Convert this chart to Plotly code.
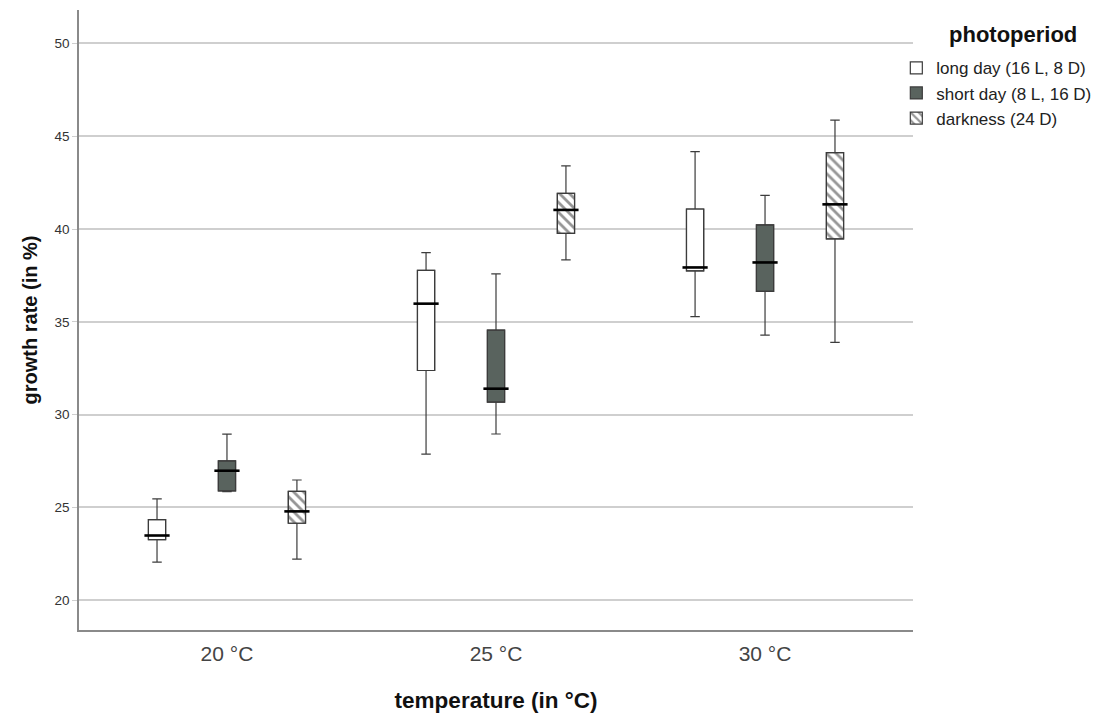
import plotly.graph_objects as go

temperatures = ["20 °C", "25 °C", "30 °C"]
series_names = ["long day (16 L, 8 D)", "short day (8 L, 16 D)", "darkness (24 D)"]
legend_title = "photoperiod"

# per series: values for 20, 25, 30 °C
long_min = [22.06, 27.87, 35.28]
long_q1 = [23.27, 32.38, 37.75]
long_med = [23.49, 35.98, 37.93]
long_q3 = [24.35, 37.77, 41.08]
long_max = [25.46, 38.73, 44.17]

short_min = [25.85, 28.96, 34.28]
short_q1 = [25.90, 30.68, 36.64]
short_med = [26.98, 31.40, 38.20]
short_q3 = [27.51, 34.55, 40.22]
short_max = [28.95, 37.59, 41.81]

dark_min = [22.22, 38.34, 33.89]
dark_q1 = [24.15, 39.77, 39.47]
dark_med = [24.79, 41.03, 41.33]
dark_q3 = [25.87, 41.92, 44.12]
dark_max = [26.48, 43.40, 45.87]

y_ticks = [20, 25, 30, 35, 40, 45, 50]

series = [
    dict(name=series_names[0], mn=long_min, q1=long_q1, med=long_med, q3=long_q3, mx=long_max,
         fill="white", pattern=None),
    dict(name=series_names[1], mn=short_min, q1=short_q1, med=short_med, q3=short_q3, mx=short_max,
         fill="#59635e", pattern=None),
    dict(name=series_names[2], mn=dark_min, q1=dark_q1, med=dark_med, q3=dark_q3, mx=dark_max,
         fill="white", pattern=dict(shape="\\", fgcolor="#2e2e2e", bgcolor="white", size=7, solidity=0.4)),
]

offsets = [-0.26, 0.0, 0.26]
box_w = 0.064
LINE = "#3c3c3c"
FONT = "Liberation Sans, Arial, sans-serif"

fig = go.Figure()

for i, s in enumerate(series):
    xs = [k + offsets[i] for k in range(len(temperatures))]
    marker = dict(color=s["fill"], line=dict(color=LINE, width=1.2))
    if s["pattern"]:
        marker["pattern"] = s["pattern"]
    fig.add_trace(go.Bar(
        x=xs, y=[b - a for a, b in zip(s["q1"], s["q3"])], base=s["q1"], width=box_w,
        name=s["name"], marker=marker, showlegend=True, hoverinfo="skip"))

for i, s in enumerate(series):
    xs = [k + offsets[i] for k in range(len(temperatures))]
    fig.add_trace(go.Box(
        x=xs, q1=s["q1"], median=s["med"], q3=s["q3"], lowerfence=s["mn"], upperfence=s["mx"],
        width=box_w, whiskerwidth=0.55, fillcolor="rgba(0,0,0,0)",
        line=dict(color=LINE, width=1.2), showlegend=False, boxpoints=False))
    fig.add_trace(go.Scatter(
        x=xs, y=s["med"], mode="markers",
        marker=dict(symbol="line-ew", size=18, line=dict(color="black", width=2.6)),
        showlegend=False, hoverinfo="skip"))

fig.update_layout(
    width=1107, height=706,
    margin=dict(l=71, r=202, t=2, b=84),
    paper_bgcolor="white", plot_bgcolor="white",
    font=dict(family=FONT, color="#222"),
    barmode="overlay",
    legend=dict(
        x=0.98, xanchor="left", y=0.935, yanchor="top",
        font=dict(size=17, color="#222"), tracegroupgap=0, itemwidth=30,
        bgcolor="rgba(0,0,0,0)"),
    annotations=[dict(
        text="<b>" + legend_title + "</b>", xref="paper", yref="paper", x=1.12, y=0.96,
        xanchor="center", yanchor="middle", showarrow=False, font=dict(size=22, color="#111"))],
)
fig.update_xaxes(
    range=[-0.55, 2.55], tickvals=list(range(len(temperatures))), ticktext=temperatures,
    showgrid=False, zeroline=False, showline=True, linecolor="#8a8a8a", linewidth=1.5,
    tickfont=dict(size=21, color="#444"), ticks="", ticklabelstandoff=4,
    title=dict(text="<b>temperature (in °C)</b>", font=dict(size=22.5, color="#111"), standoff=28))
fig.update_yaxes(
    range=[18.4, 51.8], tickvals=y_ticks, showgrid=True, gridcolor="#cfcfcf", gridwidth=1.5,
    zeroline=False, showline=True, linecolor="#8a8a8a", linewidth=1.5,
    ticks="outside", ticklen=5, tickcolor="#cfcfcf",
    tickfont=dict(size=13.5, color="#333"),
    title=dict(text="<b>growth rate (in %)</b>", font=dict(size=20, color="#111"), standoff=12))

fig.write_html("out.html")
